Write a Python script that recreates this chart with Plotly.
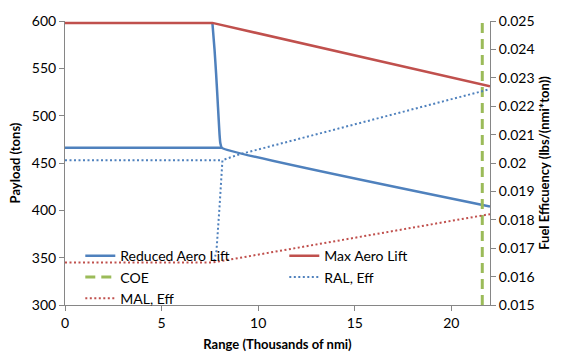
import plotly.graph_objects as go

# ---- data ----
ral_flat_x = [0, 8.12]
ral_flat_y = [466, 466]
ral_x = [7.63, 7.74, 7.82, 7.89, 7.95, 8.0, 8.04, 8.12, 22.0]
ral_y = [598, 570, 545, 520, 498, 480, 471, 466, 404]

mal_x = [0, 7.63, 22.0]
mal_y = [598, 598, 531]

coe_x = [21.6, 21.6]
coe_y = [300, 600]

raleff_flat_x = [0, 8.15]
raleff_flat_y = [0.0201, 0.0201]
raleff_x = [7.72, 7.84, 8.0, 8.15, 9.0, 22.0]
raleff_y = [0.01655, 0.0169, 0.01847, 0.0201, 0.0203, 0.0226]

maleff_x = [0, 7.63, 9.04, 10.05, 11.63, 14.21, 16.8, 19.38, 22.0]
maleff_y = [0.0165, 0.0165, 0.01666, 0.01678, 0.01695, 0.01728, 0.01758, 0.01787, 0.0182]

x_ticks = [0, 5, 10, 15, 20]
y_ticks = [300, 350, 400, 450, 500, 550, 600]
y2_ticks = [0.015, 0.016, 0.017, 0.018, 0.019, 0.02, 0.021, 0.022, 0.023, 0.024, 0.025]
y2_labels = ["0.015", "0.016", "0.017", "0.018", "0.019", "0.02", "0.021", "0.022", "0.023", "0.024", "0.025"]

BLUE = "#4F81BD"
RED = "#C0504D"
GREEN = "#9BBB59"
AXIS = "#868686"
FONT = "Lato"

fig = go.Figure()

def join(a, b):
    return list(a) + [None] + list(b)

fig.add_trace(go.Scatter(x=join(ral_flat_x, ral_x), y=join(ral_flat_y, ral_y), mode="lines",
                         name="Reduced Aero Lift", line=dict(color=BLUE, width=2.5, shape="spline", smoothing=0.4)))
fig.add_trace(go.Scatter(x=mal_x, y=mal_y, mode="lines",
                         name="Max Aero Lift", line=dict(color=RED, width=2.5)))
fig.add_trace(go.Scatter(x=coe_x, y=coe_y, mode="lines",
                         name="COE", line=dict(color=GREEN, width=3, dash="10px,6px")))
fig.add_trace(go.Scatter(x=join(raleff_flat_x, raleff_x), y=join(raleff_flat_y, raleff_y), mode="lines",
                         name="RAL, Eff", yaxis="y2",
                         line=dict(color=BLUE, width=2, dash="2px,2.5px")))
fig.add_trace(go.Scatter(x=maleff_x, y=maleff_y, mode="lines",
                         name="MAL, Eff", yaxis="y2",
                         line=dict(color=RED, width=2, dash="2px,2.5px")))

axis_common = dict(showline=True, linecolor=AXIS, linewidth=1, ticks="outside",
                   tickcolor=AXIS, ticklen=5, showgrid=False, zeroline=False,
                   tickfont=dict(family=FONT, size=14, color="#000"))

fig.update_layout(
    width=562, height=362,
    margin=dict(l=65, r=72, t=17, b=54),
    paper_bgcolor="white", plot_bgcolor="white",
    font=dict(family=FONT, size=13, color="#000"),
    showlegend=True,
    legend=dict(orientation="h", x=0.036, xanchor="left", y=0.228, yanchor="top",
                entrywidth=159, entrywidthmode="pixels", itemwidth=30,
                font=dict(family=FONT, size=14, color="#000"),
                bgcolor="rgba(0,0,0,0)", traceorder="normal"),
    xaxis=dict(range=[0, 22], tickvals=x_ticks, **axis_common,
               title=dict(text="<b>Range (Thousands of nmi)</b>", font=dict(family=FONT, size=13), standoff=10)),
    yaxis=dict(range=[300, 600], tickvals=y_ticks, **axis_common,
               title=dict(text="<b>Payload (tons)</b>", font=dict(family=FONT, size=13), standoff=8)),
    yaxis2=dict(range=[0.015, 0.025], tickvals=y2_ticks, ticktext=y2_labels, overlaying="y",
                side="right", **axis_common,
                title=dict(text="<b>Fuel Efficuency (lbs/(nmi*ton))</b>", font=dict(family=FONT, size=13), standoff=6)),
)

fig.write_html("out.html")
